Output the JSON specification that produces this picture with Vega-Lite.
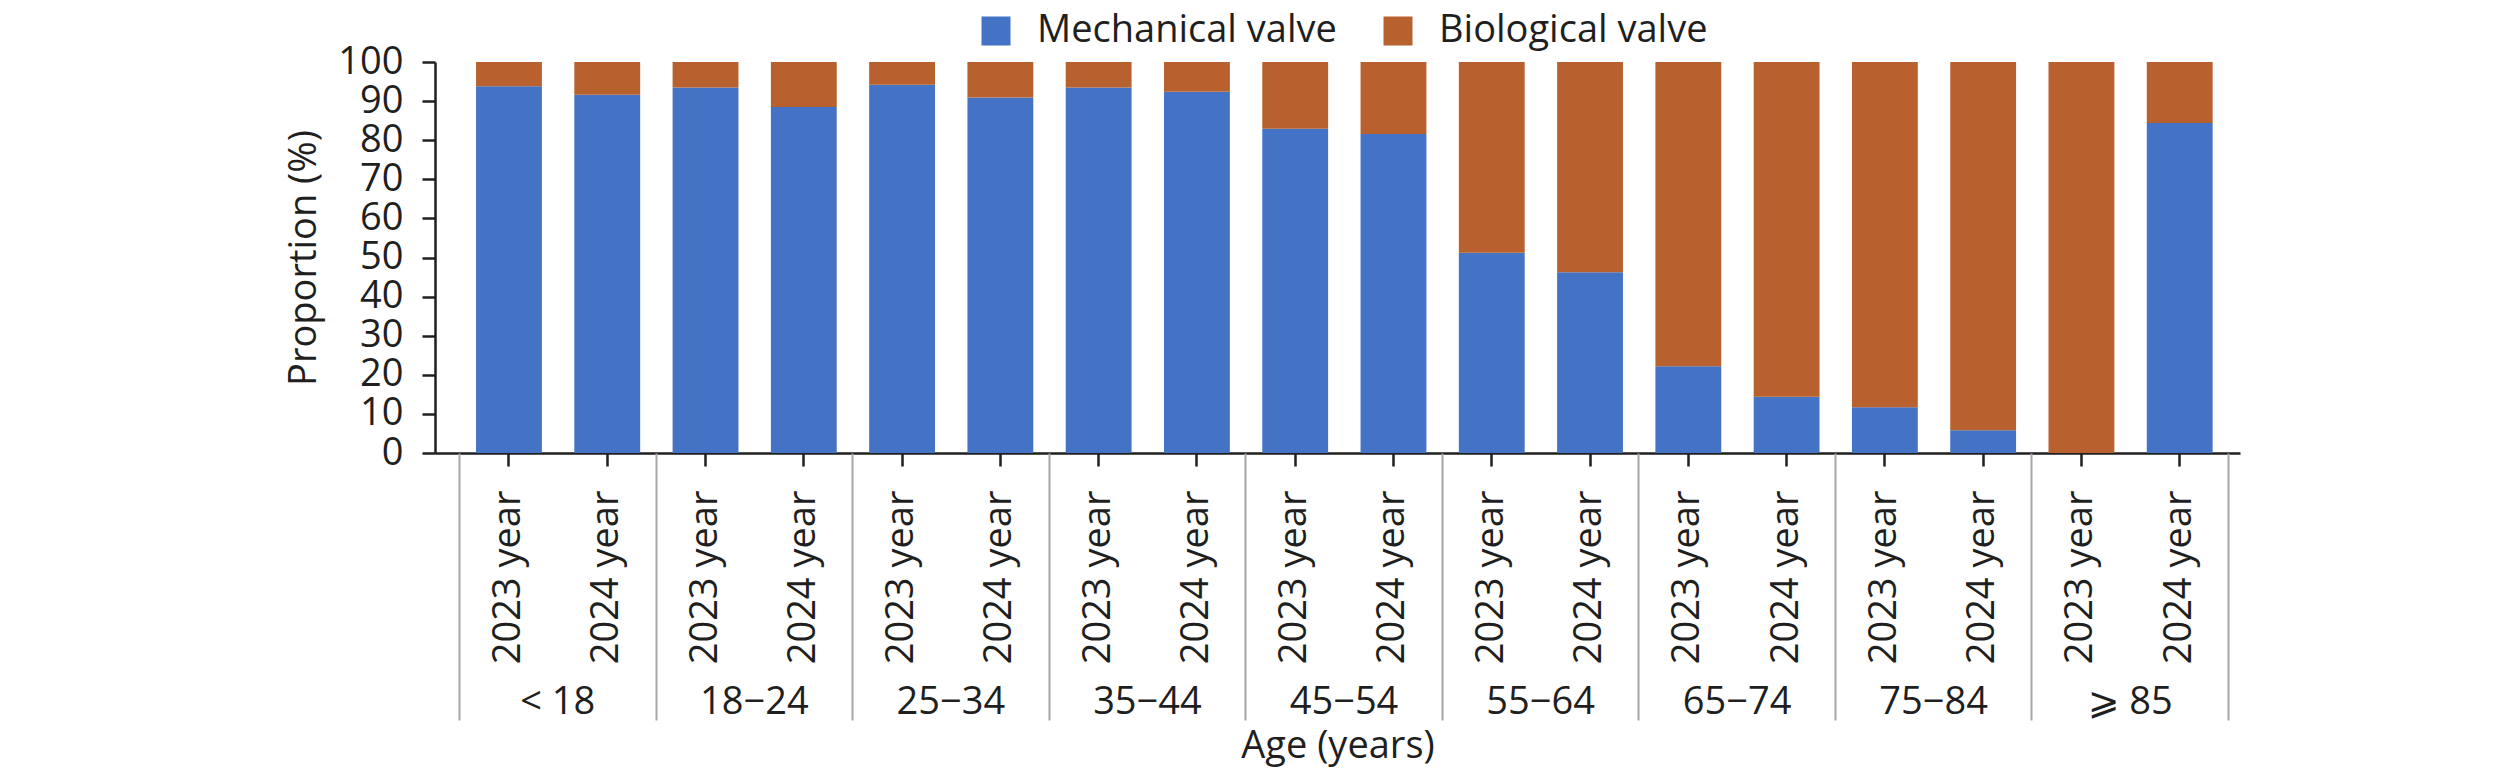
{
  "$schema": "https://vega.github.io/schema/vega-lite/v6.json",
  "description": "Proportion of mechanical and biological valves by age group, 2023 and 2024.",
  "width": 1805,
  "height": 391,
  "autosize": {"type": "none"},
  "padding": {"left": 435, "top": 62, "right": 280, "bottom": 319},
  "config": {
    "font": "Open Sans, DejaVu Sans",
    "view": {"stroke": null},
    "axis": {
      "grid": false,
      "labelFont": "Open Sans, DejaVu Sans",
      "titleFont": "Open Sans, DejaVu Sans",
      "labelFontSize": 38,
      "titleFontSize": 38,
      "titleFontWeight": "normal",
      "labelColor": "#1f1f1f",
      "titleColor": "#1f1f1f",
      "labelLimit": 1000
    }
  },
  "layer": [
    {
      "data": {
        "values": [
          {"bar": "1|2023 year", "group": "< 18", "type": "Mechanical valve", "value": 93.8},
          {"bar": "1|2023 year", "group": "< 18", "type": "Biological valve", "value": 6.2},
          {"bar": "2|2024 year", "group": "< 18", "type": "Mechanical valve", "value": 91.6},
          {"bar": "2|2024 year", "group": "< 18", "type": "Biological valve", "value": 8.4},
          {"bar": "3|2023 year", "group": "18−24", "type": "Mechanical valve", "value": 93.5},
          {"bar": "3|2023 year", "group": "18−24", "type": "Biological valve", "value": 6.5},
          {"bar": "4|2024 year", "group": "18−24", "type": "Mechanical valve", "value": 88.5},
          {"bar": "4|2024 year", "group": "18−24", "type": "Biological valve", "value": 11.5},
          {"bar": "5|2023 year", "group": "25−34", "type": "Mechanical valve", "value": 94.2},
          {"bar": "5|2023 year", "group": "25−34", "type": "Biological valve", "value": 5.8},
          {"bar": "6|2024 year", "group": "25−34", "type": "Mechanical valve", "value": 90.9},
          {"bar": "6|2024 year", "group": "25−34", "type": "Biological valve", "value": 9.1},
          {"bar": "7|2023 year", "group": "35−44", "type": "Mechanical valve", "value": 93.5},
          {"bar": "7|2023 year", "group": "35−44", "type": "Biological valve", "value": 6.5},
          {"bar": "8|2024 year", "group": "35−44", "type": "Mechanical valve", "value": 92.4},
          {"bar": "8|2024 year", "group": "35−44", "type": "Biological valve", "value": 7.6},
          {"bar": "9|2023 year", "group": "45−54", "type": "Mechanical valve", "value": 82.9},
          {"bar": "9|2023 year", "group": "45−54", "type": "Biological valve", "value": 17.1},
          {"bar": "10|2024 year", "group": "45−54", "type": "Mechanical valve", "value": 81.6},
          {"bar": "10|2024 year", "group": "45−54", "type": "Biological valve", "value": 18.4},
          {"bar": "11|2023 year", "group": "55−64", "type": "Mechanical valve", "value": 51.2},
          {"bar": "11|2023 year", "group": "55−64", "type": "Biological valve", "value": 48.8},
          {"bar": "12|2024 year", "group": "55−64", "type": "Mechanical valve", "value": 46.2},
          {"bar": "12|2024 year", "group": "55−64", "type": "Biological valve", "value": 53.8},
          {"bar": "13|2023 year", "group": "65−74", "type": "Mechanical valve", "value": 22.2},
          {"bar": "13|2023 year", "group": "65−74", "type": "Biological valve", "value": 77.8},
          {"bar": "14|2024 year", "group": "65−74", "type": "Mechanical valve", "value": 14.4},
          {"bar": "14|2024 year", "group": "65−74", "type": "Biological valve", "value": 85.6},
          {"bar": "15|2023 year", "group": "75−84", "type": "Mechanical valve", "value": 11.7},
          {"bar": "15|2023 year", "group": "75−84", "type": "Biological valve", "value": 88.3},
          {"bar": "16|2024 year", "group": "75−84", "type": "Mechanical valve", "value": 5.8},
          {"bar": "16|2024 year", "group": "75−84", "type": "Biological valve", "value": 94.2},
          {"bar": "17|2023 year", "group": "⩾ 85", "type": "Mechanical valve", "value": 0},
          {"bar": "17|2023 year", "group": "⩾ 85", "type": "Biological valve", "value": 100},
          {"bar": "18|2024 year", "group": "⩾ 85", "type": "Mechanical valve", "value": 84.4},
          {"bar": "18|2024 year", "group": "⩾ 85", "type": "Biological valve", "value": 15.6}
        ]
      },
      "mark": {"type": "bar"},
      "encoding": {
        "x": {
          "field": "bar",
          "type": "nominal",
          "sort": null,
          "scale": {"paddingInner": 0.33, "paddingOuter": 0.348, "align": 0.6},
          "axis": {
            "orient": "bottom",
            "title": null,
            "labelExpr": "split(datum.label, '|')[1]",
            "labelAngle": -90,
            "labelPadding": 24,
            "tickSize": 13,
            "tickWidth": 2.5,
            "tickColor": "#1f1f1f",
            "domainColor": "#1f1f1f",
            "domainWidth": 2.5
          }
        },
        "y": {
          "field": "value",
          "type": "quantitative",
          "stack": "zero",
          "scale": {"domain": [0, 100], "nice": false},
          "axis": {
            "title": "Proportion (%)",
            "values": [0, 10, 20, 30, 40, 50, 60, 70, 80, 90, 100],
            "tickSize": 13,
            "tickWidth": 2.5,
            "tickColor": "#1f1f1f",
            "domainColor": "#1f1f1f",
            "domainWidth": 2.5,
            "labelPadding": 19,
            "titlePadding": 14
          }
        },
        "color": {
          "field": "type",
          "type": "nominal",
          "scale": {
            "domain": ["Mechanical valve", "Biological valve"],
            "range": ["#4472C4", "#B8612F"]
          },
          "legend": {
            "title": null,
            "orient": "none",
            "legendX": 542,
            "legendY": -50,
            "direction": "horizontal",
            "symbolType": "square",
            "symbolSize": 841,
            "symbolStrokeWidth": 0,
            "labelFontSize": 38,
            "labelFont": "Open Sans, DejaVu Sans",
            "labelColor": "#1f1f1f",
            "labelOffset": 22,
            "labelLimit": 1000,
            "columnPadding": 42,
            "padding": 0
          }
        },
        "order": {"field": "type", "sort": "descending"}
      }
    },
    {
      "data": {
        "values": [
          {"group": "< 18"},
          {"group": "18−24"},
          {"group": "25−34"},
          {"group": "35−44"},
          {"group": "45−54"},
          {"group": "55−64"},
          {"group": "65−74"},
          {"group": "75−84"},
          {"group": "⩾ 85"}
        ]
      },
      "mark": {"type": "tick", "opacity": 0},
      "encoding": {
        "x": {
          "field": "group",
          "type": "nominal",
          "sort": null,
          "scale": {"paddingInner": 0, "paddingOuter": 0.0916, "align": 0.667},
          "axis": {
            "orient": "bottom",
            "title": "Age (years)",
            "domain": false,
            "tickBand": "extent",
            "tickSize": 267,
            "tickWidth": 2,
            "tickColor": "#a6a6a6",
            "labelAngle": 0,
            "labelPadding": -37,
            "titlePadding": 74
          }
        }
      }
    }
  ],
  "resolve": {"scale": {"x": "independent"}, "axis": {"x": "independent"}}
}
